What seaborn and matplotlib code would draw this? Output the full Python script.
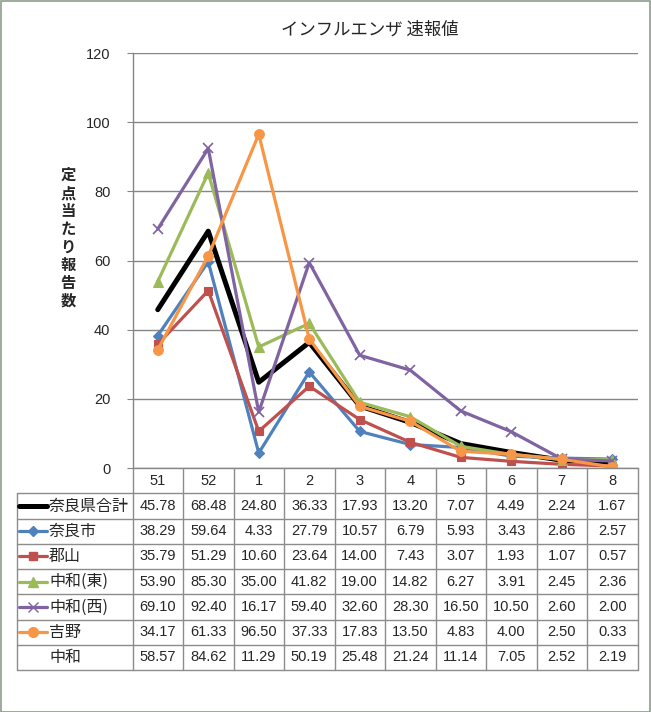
import matplotlib
matplotlib.use("Agg")
import matplotlib.pyplot as plt
import seaborn as sns
import pandas as pd
from matplotlib.patches import Rectangle

# ---------------- data ----------------
weeks = ["51", "52", "1", "2", "3", "4", "5", "6", "7", "8"]
series_names = ["奈良県合計", "奈良市", "郡山", "中和(東)", "中和(西)", "吉野", "中和"]
total = [45.78, 68.48, 24.80, 36.33, 17.93, 13.20, 7.07, 4.49, 2.24, 1.67]
nara = [38.29, 59.64, 4.33, 27.79, 10.57, 6.79, 5.93, 3.43, 2.86, 2.57]
koriyama = [35.79, 51.29, 10.60, 23.64, 14.00, 7.43, 3.07, 1.93, 1.07, 0.57]
chuwa_east = [53.90, 85.30, 35.00, 41.82, 19.00, 14.82, 6.27, 3.91, 2.45, 2.36]
chuwa_west = [69.10, 92.40, 16.17, 59.40, 32.60, 28.30, 16.50, 10.50, 2.60, 2.00]
yoshino = [34.17, 61.33, 96.50, 37.33, 17.83, 13.50, 4.83, 4.00, 2.50, 0.33]
chuwa = [58.57, 84.62, 11.29, 50.19, 25.48, 21.24, 11.14, 7.05, 2.52, 2.19]
all_values = [total, nara, koriyama, chuwa_east, chuwa_west, yoshino, chuwa]

# styles (series plotted: first six; 中和 is table only)
styles = [
    dict(color="#000000", marker=None, lw=3.6, ms=0),
    dict(color="#4F81BD", marker="D", lw=2.3, ms=5.5),
    dict(color="#C0504D", marker="s", lw=2.3, ms=6),
    dict(color="#9BBB59", marker="^", lw=2.3, ms=7),
    dict(color="#8064A2", marker="x", lw=2.3, ms=7),
    dict(color="#F79646", marker="o", lw=2.3, ms=7),
    None,
]

sns.set_style("white")
plt.rcParams["font.family"] = ["Noto Sans CJK JP", "DejaVu Sans"]

W, H = 651, 712
fig = plt.figure(figsize=(W / 100, H / 100), dpi=100)
fig.patch.set_facecolor("white")

# plot area in pixels
px_left, px_right, px_top, px_bottom = 132.5, 637.5, 53, 468
ax = fig.add_axes([px_left / W, 1 - px_bottom / H,
                   (px_right - px_left) / W, (px_bottom - px_top) / H])

xpos = list(range(len(weeks)))
for name, vals, st in zip(series_names, all_values, styles):
    if st is None:
        continue
    df = pd.DataFrame({"x": xpos, "y": vals})
    kw = dict(color=st["color"], linewidth=st["lw"])
    if st["marker"] is not None:
        kw.update(marker=st["marker"], markersize=st["ms"],
                  markeredgecolor=st["color"], markerfacecolor=st["color"],
                  markeredgewidth=1.2 if st["marker"] == "x" else 0.8)
    sns.lineplot(data=df, x="x", y="y", ax=ax, legend=False, **kw)

ax.set_xlim(-0.5, len(weeks) - 0.5)
ax.set_ylim(0, 120)
ax.set_yticks(range(0, 121, 20))
ax.set_xticks([])
ax.set_xlabel("")
ax.set_ylabel("")
ax.yaxis.grid(True, color="#868686", linewidth=1)
ax.set_axisbelow(True)
for s in ["top", "right"]:
    ax.spines[s].set_visible(False)
ax.spines["left"].set_color("#868686")
ax.spines["bottom"].set_color("#868686")
ax.spines["left"].set_linewidth(1)
ax.spines["bottom"].set_linewidth(1)
ax.tick_params(axis="y", direction="out", length=4, color="#868686",
               pad=12, labelsize=10.5, left=True)
for lab in ax.get_yticklabels():
    lab.set_fontfamily(["Liberation Sans", "DejaVu Sans"])

# title & y label
fig.text(370 / W, 1 - 30 / H, "インフルエンザ 速報値", ha="center", va="center",
         fontsize=12.5)
fig.text(68 / W, 1 - 238 / H, "\n".join("定点当たり報告数"), ha="center",
         va="center", fontsize=11, fontweight="bold", linespacing=1.15)

# ---------------- data table ----------------
tax = fig.add_axes([0, 0, 1, 1])
tax.set_xlim(0, W)
tax.set_ylim(H, 0)
tax.axis("off")
tax.patch.set_alpha(0)

grid_c = "#8c8c8c"
ncol = len(weeks)
col_w = (px_right - px_left) / ncol
col_x = [px_left + i * col_w for i in range(ncol + 1)]
row_h = 25.25
row_y = [px_bottom + i * row_h for i in range(len(series_names) + 2)]
table_left = 16.5

for x in col_x:
    tax.plot([x, x], [row_y[0], row_y[-1]], color=grid_c, lw=1)
tax.plot([table_left, table_left], [row_y[1], row_y[-1]], color=grid_c, lw=1)
for y in row_y[1:]:
    tax.plot([table_left, px_right], [y, y], color=grid_c, lw=1)

num_font = ["Liberation Sans", "DejaVu Sans"]
for i, wk in enumerate(weeks):
    tax.text((col_x[i] + col_x[i + 1]) / 2, (row_y[0] + row_y[1]) / 2, wk,
             ha="center", va="center", fontsize=10.5, family=num_font)

for r, (name, vals, st) in enumerate(zip(series_names, all_values, styles)):
    yc = (row_y[r + 1] + row_y[r + 2]) / 2
    if st is not None:
        kw = dict(color=st["color"], lw=st["lw"])
        if st["marker"] is not None:
            kw.update(marker=st["marker"], markersize=st["ms"],
                      markeredgecolor=st["color"], markerfacecolor=st["color"],
                      markevery=[1])
        tax.plot([19, 33, 47], [yc, yc, yc], **kw)
    tax.text(49, yc, name, ha="left", va="center", fontsize=11.5)
    for i, v in enumerate(vals):
        tax.text((col_x[i] + col_x[i + 1]) / 2, yc, f"{v:.2f}",
                 ha="center", va="center", fontsize=10.5, family=num_font)

# outer border
fig.add_artist(Rectangle((0.5 / W, 0.5 / H), 1 - 1.5 / W, 1 - 1.5 / H,
                         transform=fig.transFigure, fill=False,
                         edgecolor="#8c9c8c", linewidth=1.2))

fig.savefig("out.png", dpi=100)
